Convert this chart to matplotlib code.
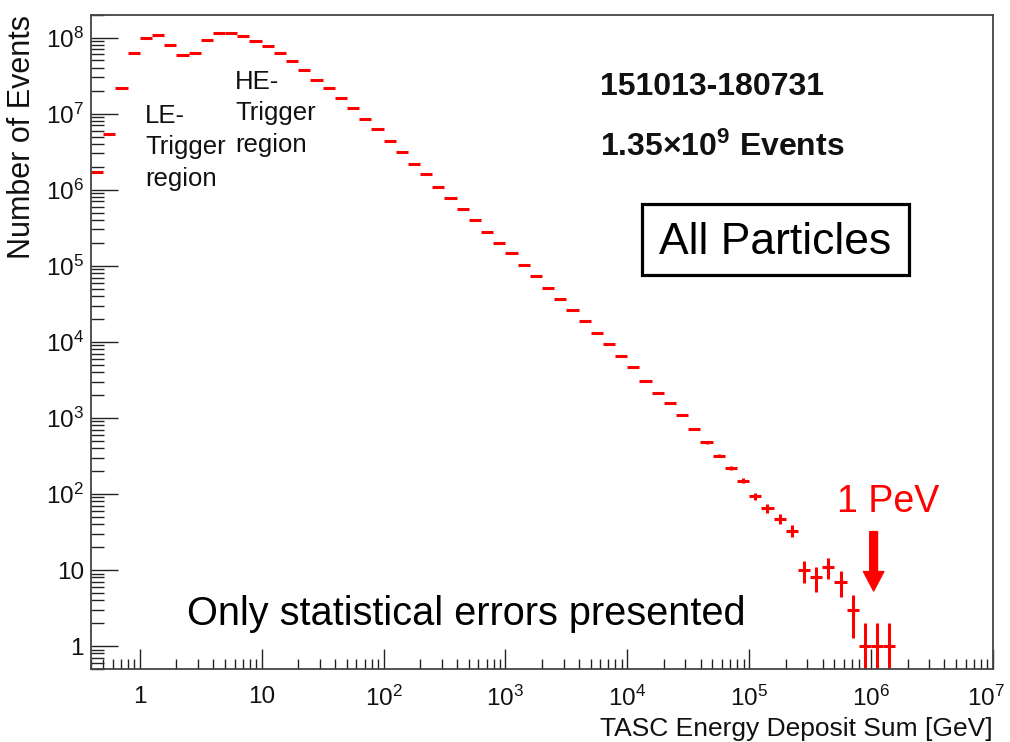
import matplotlib
matplotlib.use("Agg")
import matplotlib.pyplot as plt
import matplotlib.patches as mpatches
import matplotlib.transforms as mtransforms
import numpy as np
from matplotlib import font_manager
from matplotlib.ticker import FixedLocator, FixedFormatter, LogLocator, NullFormatter

# ---------------------------------------------------------------------------
# Data: TASC energy deposit sum histogram, 10 log bins per decade
# ---------------------------------------------------------------------------
first_bin_exp = -0.4          # log10 of the lower edge of the first bin [GeV]
bins_per_decade = 10

counts = [
    1.7e6, 5.4e6, 2.15e7, 6.2e7,                                   # 0.4 - 1 GeV
    1.0e8, 1.07e8, 7.9e7, 5.9e7, 6.2e7, 9.2e7, 1.14e8, 1.14e8, 1.04e8, 8.9e7,
    7.7e7, 6.2e7, 4.9e7, 3.7e7, 2.8e7, 2.15e7, 1.6e7, 1.18e7, 8.5e6, 6.2e6,
    4.4e6, 3.1e6, 2.15e6, 1.6e6, 1.1e6, 7.9e5, 5.5e5, 4.0e5, 2.76e5, 2.0e5,
    1.46e5, 1.02e5, 7.3e4, 5.1e4, 3.7e4, 2.6e4, 1.87e4, 1.3e4, 9300, 6500,
    4600, 3100, 2100, 1560, 1090, 710, 480, 320, 220, 150,
    94, 65, 47, 33, 10, 8, 11, 7, 3, 1,
    1, 1,
]

x_ticks = [1, 10, 1e2, 1e3, 1e4, 1e5, 1e6, 1e7]
x_tick_labels = ["1", "10", "$10^{2}$", "$10^{3}$", "$10^{4}$", "$10^{5}$",
                 "$10^{6}$", "$10^{7}$"]
y_ticks = [1, 10, 1e2, 1e3, 1e4, 1e5, 1e6, 1e7, 1e8]
y_tick_labels = ["1", "10", "$10^{2}$", "$10^{3}$", "$10^{4}$", "$10^{5}$",
                 "$10^{6}$", "$10^{7}$", "$10^{8}$"]

# ---------------------------------------------------------------------------
# Fonts: Helvetica-like
# ---------------------------------------------------------------------------
names = {f.name for f in font_manager.fontManager.ttflist}
ROOT_FONT = "Liberation Sans Narrow" if "Liberation Sans Narrow" in names else "Liberation Sans"
PLAIN_FONT = "Liberation Sans"

plt.rcParams["font.family"] = [ROOT_FONT, "DejaVu Sans"]
plt.rcParams["mathtext.fontset"] = "custom"
plt.rcParams["mathtext.rm"] = ROOT_FONT
plt.rcParams["mathtext.bf"] = ROOT_FONT + ":bold"
plt.rcParams["mathtext.default"] = "regular"

counts = np.asarray(counts, dtype=float)
exps = first_bin_exp + np.arange(len(counts) + 1) / bins_per_decade
edges = 10 ** exps
lo, hi = edges[:-1], edges[1:]
centers = np.sqrt(lo * hi)
err = np.sqrt(counts)
err_lo = np.minimum(err, counts * 0.999)

fig = plt.figure(figsize=(10.1, 7.42), dpi=100)
ax = fig.add_axes([0.0901, 0.0984, 0.893, 0.8818])

ax.errorbar(centers, counts, xerr=[centers - lo, hi - centers], yerr=[err_lo, err],
            fmt="none", ecolor="#ff0000", elinewidth=2.2, capsize=0)

ax.set_xscale("log")
ax.set_yscale("log")
ax.set_xlim(10 ** first_bin_exp, 1e7)
ax.set_ylim(0.5, 2e8)

ax.xaxis.set_major_locator(FixedLocator(x_ticks))
ax.xaxis.set_major_formatter(FixedFormatter(x_tick_labels))
ax.yaxis.set_major_locator(FixedLocator(y_ticks))
ax.yaxis.set_major_formatter(FixedFormatter(y_tick_labels))
for axis in (ax.xaxis, ax.yaxis):
    axis.set_minor_locator(LogLocator(base=10, subs=np.arange(2, 10), numticks=30))
    axis.set_minor_formatter(NullFormatter())

ax.tick_params(which="both", direction="in", top=False, right=False,
               color="#222222", width=1.0, labelsize=17.5, labelcolor="#111111")
ax.tick_params(axis="x", which="major", length=14.5, pad=12)
ax.tick_params(axis="x", which="minor", length=7.2)
ax.tick_params(axis="y", which="major", length=19.5, pad=5)
ax.tick_params(axis="y", which="minor", length=9.5)
for sp in ax.spines.values():
    sp.set_linewidth(1.3)
    sp.set_color("#444444")

# keep the last x label (10^7) inside the canvas
last = ax.xaxis.get_major_ticks()[-1].label1
last.set_transform(last.get_transform()
                   + mtransforms.ScaledTranslation(-5 / 72, 0, fig.dpi_scale_trans))

# axis titles (ROOT style: aligned to the end of the axis)
fig.text(0.983, 0.0075, "TASC Energy Deposit Sum [GeV]", ha="right", va="baseline",
         fontsize=19, color="#111111")
fig.text(0.022, 0.980, "Number of Events", rotation=90, ha="center", va="top",
         fontsize=22, family=PLAIN_FONT, color="#111111")

# labels inside the frame
ax.text(0.060, 0.864, "LE-\nTrigger\nregion", transform=ax.transAxes, ha="left",
        va="top", fontsize=18.5, linespacing=1.4, family=PLAIN_FONT, color="#111111")
ax.text(0.160, 0.916, "HE-\nTrigger\nregion", transform=ax.transAxes, ha="left",
        va="top", fontsize=18.5, linespacing=1.4, family=PLAIN_FONT, color="#111111")

ax.text(0.564, 0.877, "151013-180731", transform=ax.transAxes, ha="left",
        va="baseline", fontsize=23, fontweight="bold", color="#111111")
ax.text(0.564, 0.784, r"1.35$\times$10$^{9}$ Events", transform=ax.transAxes,
        ha="left", va="baseline", fontsize=23, fontweight="bold", color="#111111")

ax.add_patch(mpatches.Rectangle((0.611, 0.602), 0.296, 0.109, transform=ax.transAxes,
                                facecolor="white", edgecolor="black", linewidth=2.3))
ax.text(0.759, 0.634, "All Particles", transform=ax.transAxes, ha="center",
        va="baseline", fontsize=32, family=PLAIN_FONT, color="black")

ax.text(0.106, 0.067, "Only statistical errors presented", transform=ax.transAxes,
        ha="left", va="baseline", fontsize=28.6, family=PLAIN_FONT, color="black")

# 1 PeV marker
ax.text(5.3e5, 58, "1 PeV", ha="left", va="baseline", fontsize=27,
        family=PLAIN_FONT, color="#ff0000")
ax.annotate("", xy=(1.05e6, 5.3), xytext=(1.05e6, 32),
            arrowprops=dict(arrowstyle="simple,head_length=1.0,head_width=1.05,tail_width=0.4",
                            mutation_scale=14, facecolor="#ff0000", edgecolor="#ff0000",
                            shrinkA=0, shrinkB=0))

fig.savefig("out.png", dpi=100, facecolor="white")
